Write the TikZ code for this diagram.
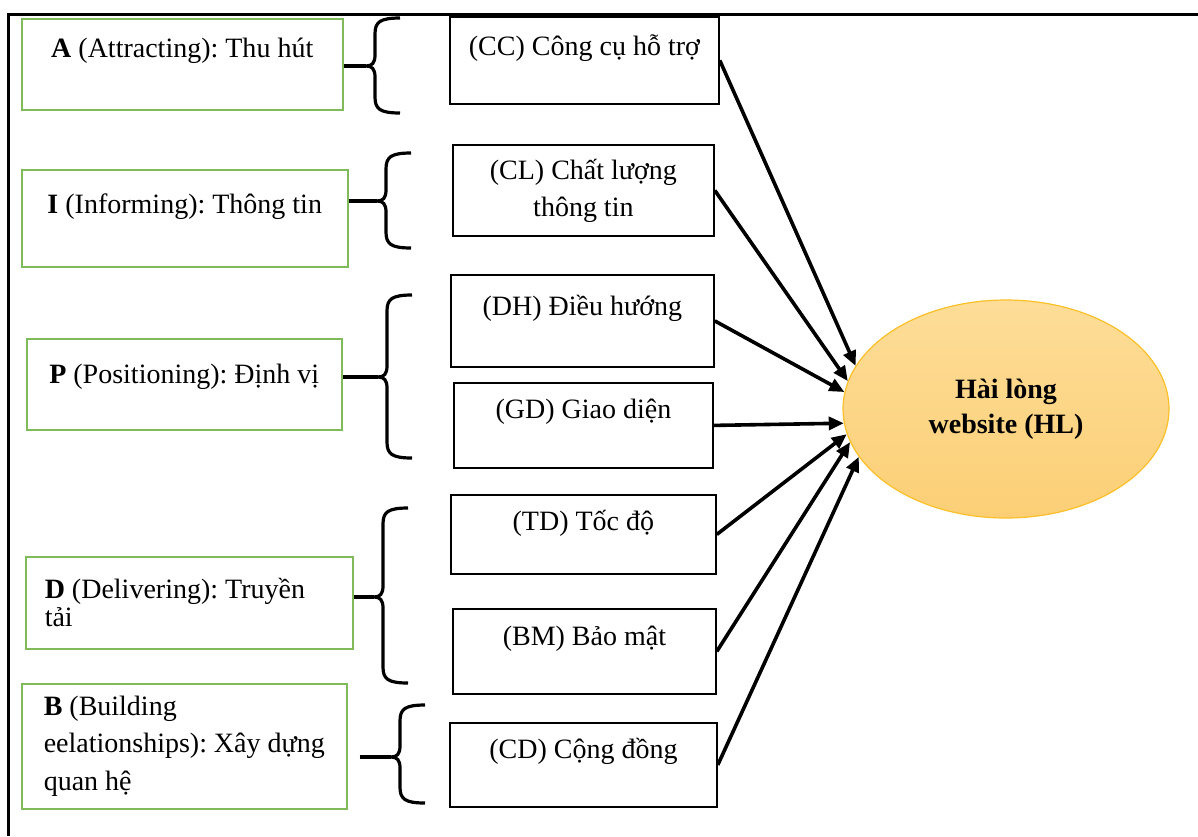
\documentclass[tikz,border=0pt]{standalone}
\usepackage{fontspec}
\setmainfont{Liberation Serif}
\usetikzlibrary{arrows.meta,shapes.geometric}

\definecolor{boxgreen}{RGB}{128,186,90}
\definecolor{hltop}{RGB}{253,221,152}
\definecolor{hlbot}{RGB}{252,207,118}
\definecolor{hlrim}{RGB}{250,192,40}

\begin{document}
\frenchspacing
\begin{tikzpicture}[
  x=0.5pt, y=-0.5pt,
  font=\fontsize{14}{18.5}\selectfont,
  frame/.style={line width=1.5pt,draw=black},
  pillar/.style={draw=boxgreen,line width=0.75pt,anchor=north west,inner sep=0pt,align=center},
  factor/.style={draw=black,line width=0.9pt,anchor=north west,inner sep=0pt,align=center},
  oneline/.style 2 args={text height=#1,text depth=#2},
  brc/.style={line width=1.6pt,draw=black},
  imp/.style={line width=1.8pt,draw=black,-{Triangle[length=7.5pt,width=6.5pt]}}
]
\useasboundingbox (0,0) rectangle (1198,836);

% ---- table frame ----
\draw[frame] (8,836) -- (8,14) -- (1198,14);

% ---- AIPDB pillars ----
\node[pillar,oneline={19.5pt}{26pt},minimum width=160.5pt] (att) at (21,18)
  {\textbf{A} (Attracting): Thu hút};
\node[pillar,oneline={22pt}{26.5pt},minimum width=163pt] (inf) at (21,169)
  {\textbf{I} (Informing): Thông tin};
\node[pillar,oneline={22.5pt}{23pt},minimum width=157.5pt] (pos) at (26,338)
  {\textbf{P} (Positioning): Định vị};
\node[pillar,align=flush left,inner xsep=9.5pt,text width=144.5pt,minimum height=46pt,
      font=\fontsize{14}{13.8}\selectfont] (del) at (25,556)
  {\textbf{D} (Delivering): Truyền\\tải};
\node[pillar,align=flush left,inner xsep=11pt,text width=140.5pt,minimum height=62.5pt] (bld) at (21,683)
  {\textbf{B} (Building\\eelationships): Xây dựng\\quan hệ};

% ---- factors ----
\node[factor,oneline={19.5pt}{24pt},minimum width=134.5pt] (cc) at (449,16) {(CC) Công cụ hỗ trợ};
\node[factor,minimum width=130.5pt,minimum height=45.5pt] (cl) at (452,144) {(CL) Chất lượng\\thông tin};
\node[factor,oneline={20.5pt}{25.5pt},minimum width=131.5pt] (dh) at (450,274) {(DH) Điều hướng};
\node[factor,oneline={18pt}{24.5pt},minimum width=129.5pt] (gd) at (453,382) {(GD) Giao diện};
\node[factor,oneline={18pt}{21.5pt},minimum width=132.5pt] (td) at (450,494) {(TD) Tốc độ};
\node[factor,oneline={18.5pt}{24pt},minimum width=131.5pt] (bm) at (452,608) {(BM) Bảo mật};
\node[factor,oneline={18pt}{24pt},minimum width=133.5pt] (cd) at (449,722) {(CD) Cộng đồng};

% ---- outcome ----
\node[ellipse,draw=hlrim,line width=0.6pt,top color=hltop,bottom color=hlbot,
      minimum width=163pt,minimum height=109pt,inner sep=0pt,align=center,
      font=\fontsize{14}{17.5}\selectfont\bfseries] (hl) at (1006,409)
  {Hài lòng\\website (HL)};

% ---- braces grouping the factors ----
\foreach \n/\sx/\st/\sb/\sm in {att/375/18/113/66, inf/386/153/248/201, pos/387/295/458/377,
                                del/383/508/683/597, bld/400/705/803/757}{
  \draw[brc] ({\sx+25},\st) .. controls ({\sx+5},\st) and (\sx,{\st+4}) .. (\sx,{\st+16})
    -- (\sx,{\sm-11}) .. controls (\sx,{\sm-3}) and ({\sx-3},\sm) .. ({\sx-9},\sm) coordinate (tip\n)
    .. controls ({\sx-3},\sm) and (\sx,{\sm+3}) .. (\sx,{\sm+11})
    -- (\sx,{\sb-16}) .. controls (\sx,{\sb-4}) and ({\sx+5},\sb) .. ({\sx+25},\sb);
}
\draw[brc] (att.east |- tipatt) -- (tipatt);
\draw[brc] (inf.east |- tipinf) -- (tipinf);
\draw[brc] (pos.east |- tippos) -- (tippos);
\draw[brc] (del.east |- tipdel) -- (tipdel);
\draw[brc] ([xshift=6pt]bld.east |- tipbld) -- (tipbld);

% ---- effects on satisfaction ----
\draw[imp] (cc.east) -- (hl.164);
\draw[imp] (cl.east) -- (hl.170);
\draw[imp] (dh.east) -- (hl.174);
\draw[imp] (gd.east) -- (hl.185);
\draw[imp] (td.east) -- (hl.189);
\draw[imp] (bm.east) -- (hl.192);
\draw[imp] (cd.east) -- (hl.198);

\end{tikzpicture}
\end{document}
